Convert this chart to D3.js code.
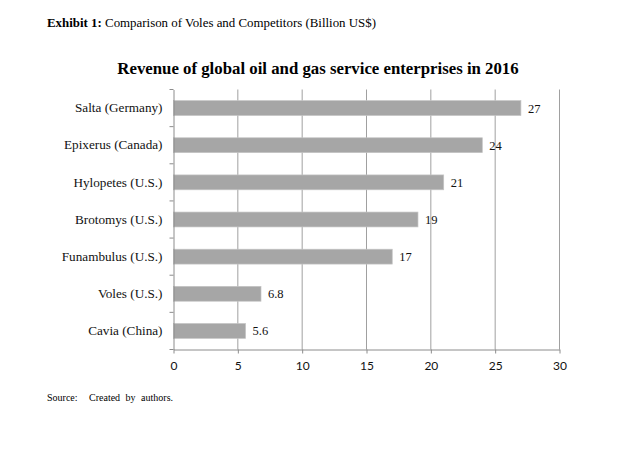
<!DOCTYPE html>
<html><head><meta charset="utf-8">
<script src="https://cdn.jsdelivr.net/npm/d3@7"></script>
<style>body{margin:0;background:#fff}</style>
</head><body>
<svg id="c" width="630" height="463"></svg>
<script>
const categories = ["Salta (Germany)","Epixerus (Canada)","Hylopetes (U.S.)","Brotomys (U.S.)","Funambulus (U.S.)","Voles (U.S.)","Cavia (China)"];
const values = [27,24,21,19,17,6.8,5.6];
const valueLabels = ["27","24","21","19","17","6.8","5.6"];
const xTicks = [0,5,10,15,20,25,30];

const svg = d3.select("#c");
const serif = "'Liberation Serif', 'DejaVu Serif', serif";
const sans = "Lato, 'Liberation Sans', sans-serif";
const m = {left:173.5, right:559.5, top:89.5, bottom:349.5};

svg.append("text").attr("x",47).attr("y",27).attr("font-family",serif).attr("font-size",12.9)
  .call(t=>{t.append("tspan").attr("font-weight","bold").text("Exhibit 1:");
            t.append("tspan").text(" Comparison of Voles and Competitors (Billion US$)");});

svg.append("text").attr("x",318).attr("y",74).attr("text-anchor","middle")
  .attr("font-family",serif).attr("font-weight","bold").attr("font-size",16.8)
  .text("Revenue of global oil and gas service enterprises in 2016");

const x = d3.scaleLinear().domain([0,30]).range([m.left,m.right]);
const y = d3.scaleBand().domain(categories).range([m.top,m.bottom]).paddingInner(0.6).paddingOuter(0.3);

// gridlines
svg.append("g").selectAll("line").data(xTicks.slice(1)).join("line")
  .attr("x1",d=>x(d)).attr("x2",d=>x(d)).attr("y1",m.top).attr("y2",m.bottom)
  .attr("stroke","#a0a0a0").attr("stroke-width",1);

// bars
svg.append("g").selectAll("rect").data(values).join("rect")
  .attr("x",x(0)).attr("y",(d,i)=>y(categories[i]))
  .attr("width",d=>x(d)-x(0)).attr("height",y.bandwidth())
  .attr("fill","#a6a6a6").attr("stroke","#c4c4c4").attr("stroke-width",0.7);

// value labels
svg.append("g").selectAll("text").data(values).join("text")
  .attr("x",d=>x(d)+7).attr("y",(d,i)=>y(categories[i])+y.bandwidth()/2+4.5)
  .attr("font-family",serif).attr("font-size",12.5).attr("fill","#111")
  .text((d,i)=>valueLabels[i]);

// x axis
const xa = svg.append("g").attr("transform",`translate(0,${m.bottom})`)
  .call(d3.axisBottom(x).tickValues(xTicks).tickSize(4).tickPadding(8).tickSizeOuter(0));
xa.select(".domain").attr("stroke","#8c8c8c");
xa.selectAll(".tick line").attr("stroke","#8c8c8c");
xa.selectAll(".tick text").attr("font-family",sans).attr("font-size",12).attr("fill","#111");

// y axis
const ya = svg.append("g").attr("transform",`translate(${m.left},0)`)
  .call(d3.axisLeft(y).tickSize(0).tickPadding(11).tickSizeOuter(0));
ya.select(".domain").attr("stroke","#8c8c8c");
ya.selectAll(".tick text").attr("font-family",serif).attr("font-size",13.2).attr("fill","#111");
const bounds = d3.range(categories.length+1).map(i=>m.top + i*(m.bottom-m.top)/categories.length);
ya.append("g").selectAll("line").data(bounds).join("line")
  .attr("x1",-4).attr("x2",0).attr("y1",d=>d).attr("y2",d=>d).attr("stroke","#8c8c8c");

svg.append("text").attr("x",47).attr("y",401).attr("font-family",serif).attr("font-size",10)
  .text("Source:");
svg.append("text").attr("x",89).attr("y",401).attr("font-family",serif).attr("font-size",10)
  .attr("word-spacing",3).text("Created by authors.");
</script>
</body></html>
